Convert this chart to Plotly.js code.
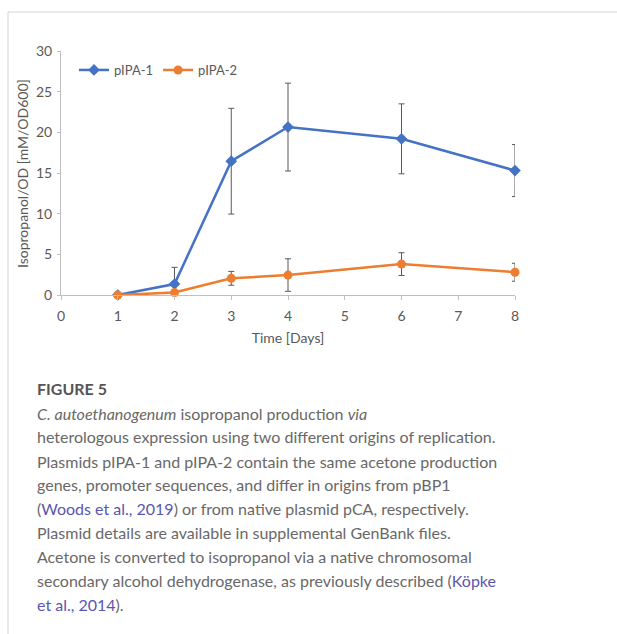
<!DOCTYPE html>
<html>
<head>
<meta charset="utf-8">
<script src="https://cdn.plot.ly/plotly-3.0.1.min.js"></script>
<style>
html,body{margin:0;padding:0;background:#fff;}
#chart{width:617px;height:634px;}
</style>
</head>
<body>
<div id="chart"></div>
<script>
// ---- data ----
const days = [1, 2, 3, 4, 6, 8];
const pIPA1 = [0, 1.35, 16.45, 20.65, 19.2, 15.3];
const pIPA1Err = [0, 2.05, 6.5, 5.4, 4.3, 3.2];
const pIPA2 = [0, 0.3, 2.05, 2.45, 3.8, 2.8];
const pIPA2Err = [0, 0, 0.85, 2.0, 1.4, 1.1];
const xTicks = [0, 1, 2, 3, 4, 5, 6, 7, 8];
const yTicks = [0, 5, 10, 15, 20, 25, 30];
const captionTitle = "FIGURE 5";
const captionLines = [
  "<i>C. autoethanogenum</i> isopropanol production <i>via</i>",
  "heterologous expression using two different origins of replication.",
  "Plasmids pIPA-1 and pIPA-2 contain the same acetone production",
  "genes, promoter sequences, and differ in origins from pBP1",
  "(<span style='color:#5a55b0'>Woods et al., 2019</span>) or from native plasmid pCA, respectively.",
  "Plasmid details are available in supplemental GenBank files.",
  "Acetone is converted to isopropanol via a native chromosomal",
  "secondary alcohol dehydrogenase, as previously described (<span style='color:#5a55b0'>Köpke</span>",
  "<span style='color:#5a55b0'>et al., 2014</span>)."
];

// ---- layout geometry (pixels) ----
const W = 617, H = 634;
const L = 61, R = 515, T = 51, B = 295;
const pw = R - L, ph = B - T;
const px2x = p => (p - L) / pw;
const py2y = p => (B - p) / ph;

const chartFont = "Lato, 'Open Sans', sans-serif";
const capFont = "Lato, 'Open Sans', sans-serif";

const traces = [
  {
    x: days, y: pIPA1, name: "pIPA-1", type: "scatter", mode: "lines+markers",
    line: {color: "#4472C4", width: 2.5},
    marker: {symbol: "diamond", size: 9, color: "#4472C4"},
    error_y: {type: "data", array: pIPA1Err, visible: true, color: "#595959", thickness: 1, width: 3},
    cliponaxis: false
  },
  {
    x: days, y: pIPA2, name: "pIPA-2", type: "scatter", mode: "lines+markers",
    line: {color: "#ED7D31", width: 2.5},
    marker: {symbol: "circle", size: 9, color: "#ED7D31"},
    error_y: {type: "data", array: pIPA2Err, visible: true, color: "#595959", thickness: 1, width: 3},
    cliponaxis: false
  }
];

const annotations = [
  {text: captionTitle, xref: "paper", yref: "paper", x: px2x(35), y: py2y(388),
   xanchor: "left", yanchor: "middle", showarrow: false,
   font: {family: capFont, size: 16, color: "#555555", weight: 700}},
  {text: "Isopropanol/OD [mM/OD600]", xref: "paper", yref: "paper", x: px2x(22), y: py2y(174),
   xanchor: "center", yanchor: "middle", showarrow: false, textangle: -90,
   font: {family: chartFont, size: 14, color: "#595959"}}
];
const lineY = [413, 437, 461, 484, 508, 532, 556, 580, 604];
captionLines.forEach((t, i) => {
  annotations.push({text: t, xref: "paper", yref: "paper", x: px2x(35), y: py2y(lineY[i]),
    xanchor: "left", yanchor: "middle", showarrow: false, align: "left",
    font: {family: capFont, size: 16, color: "#686868"}});
});

const layout = {
  width: W, height: H,
  margin: {l: L, r: W - R, t: T, b: H - B, pad: 0},
  paper_bgcolor: "#ffffff", plot_bgcolor: "#ffffff",
  font: {family: chartFont, color: "#595959", size: 13},
  showlegend: true,
  legend: {orientation: "h", x: px2x(74), y: py2y(70), xanchor: "left", yanchor: "middle",
    font: {family: chartFont, size: 13, color: "#595959"}, bgcolor: "rgba(0,0,0,0)",
    itemwidth: 30, tracegroupgap: 0},
  xaxis: {
    range: [0, 8], tickvals: xTicks, ticktext: xTicks.map(String),
    showgrid: false, zeroline: false, showline: true, linecolor: "#bfbfbf", linewidth: 1,
    ticks: "outside", ticklen: 4, tickcolor: "#bfbfbf", ticklabelstandoff: 4,
    tickfont: {family: chartFont, size: 14, color: "#595959"},
    title: {text: "Time [Days]", font: {family: chartFont, size: 14, color: "#595959"}, standoff: 10}
  },
  yaxis: {
    range: [0, 30], tickvals: yTicks, ticktext: yTicks.map(String),
    showgrid: false, zeroline: false, showline: true, linecolor: "#bfbfbf", linewidth: 1,
    ticks: "outside", ticklen: 3, tickcolor: "#bfbfbf", ticklabelstandoff: 2,
    tickfont: {family: chartFont, size: 14, color: "#595959"}
  },
  shapes: [
    {type: "line", xref: "paper", yref: "paper", x0: px2x(8), x1: px2x(617), y0: py2y(12), y1: py2y(12),
     line: {color: "#d4d4d4", width: 1}},
    {type: "line", xref: "paper", yref: "paper", x0: px2x(8), x1: px2x(8), y0: py2y(12), y1: py2y(634),
     line: {color: "#d4d4d4", width: 1}}
  ],
  annotations: annotations
};

Plotly.newPlot("chart", traces, layout, {displayModeBar: false, staticPlot: true});
</script>
</body>
</html>
